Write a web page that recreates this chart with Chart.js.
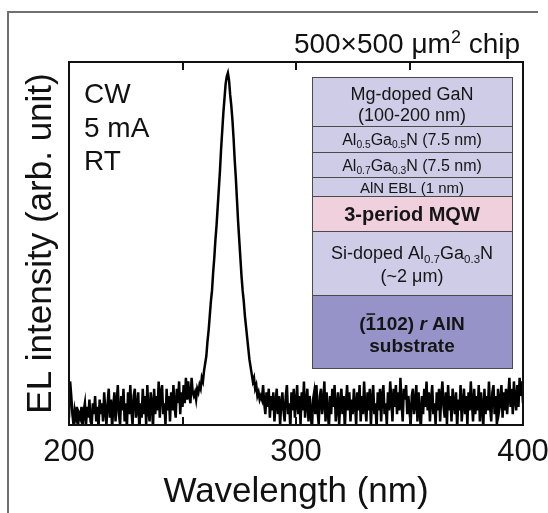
<!DOCTYPE html>
<html>
<head>
<meta charset="utf-8">
<script src="https://cdn.jsdelivr.net/npm/chart.js@4.4.1/dist/chart.umd.min.js"></script>
<style>
  html, body { margin: 0; padding: 0; background: #fff; }
  canvas { display: block; }
</style>
</head>
<body>
<canvas id="el" width="548" height="513"></canvas>
<script>
// EL spectrum sampled every 0.5 nm from 200 nm to 400 nm (arb. unit, peak ≈ 97)
const wavelengthStart = 200;
const wavelengthStep = 0.5;

const intensity = [
  // 200 – 254.5 nm
  2, 12, 8, 3, 0, 4, 2, 5, 0, 3,
  2, 5, -1, 4, 6, 0, 5, 2, 7, 1,
  0, 6, 3, 8, 1, 5, -1, 7, 3, 6,
  1, 9, 4, 0, 6, 10, 2, 7, -1, 5,
  9, 1, 6, 11, 3, 0, 8, 4, 10, 1,
  6, -1, 9, 3, 11, 4, 0, 8, 10, 2,
  5, 9, -2, 6, 2, 10, 3, 8, 0, 11,
  4, 1, 9, 6, -1, 10, 3, 8, 4, 12,
  2, 9, 11, 3, 6, 0, 10, 4, 8, 1,
  9, 4, 11, 5, 2, 10, 6, 12, 3, 9,
  5, 11, 6, 13, 7, 12, 8, 6, 13, 9,
  // 255 – 284.5 nm (emission peak)
  8, 9, 7, 10, 9, 11, 10, 13, 12, 15,
  17, 19, 23, 26, 30, 34, 37, 42, 46, 51,
  55, 60, 65, 70, 76, 81, 86, 90, 94, 96,
  97, 95, 91, 88, 84, 79, 73, 68, 62, 56,
  51, 46, 41, 37, 34, 30, 27, 24, 21, 18,
  16, 14, 12, 13, 10, 11, 8, 9, 7, 8,
  // 285 – 400 nm
  7, 11, 6, 3, 9, 5, 10, 2, 8, 4,
  9, 1, 6, 10, 3, 8, 0, 6, 9, 4,
  1, 8, 11, 3, 6, -1, 9, 4, 10, 2,
  6, 11, 3, 8, 0, 9, 4, 12, 2, 6,
  10, 1, 8, 4, -2, 7, 9, 3, 11, 4,
  0, 8, 10, 3, 6, 12, 1, 9, 4, -1,
  8, 3, 10, 5, 11, 1, 5, 9, 0, 6,
  10, 3, 8, -1, 6, 11, 4, 9, 1, 7,
  3, 10, 6, 0, 9, 4, 11, 1, 8, 3,
  12, 5, 1, 9, 4, 10, 0, 7, 11, 3,
  6, -1, 9, 4, 10, 1, 8, 11, 3, 6,
  0, 9, 4, 12, 7, 1, 10, 5, 11, 3,
  9, 4, 13, 6, 1, 10, 7, 11, 3, 8,
  4, 0, 8, 10, 3, 6, 11, 1, 9, 4,
  -1, 8, 3, 10, 5, 12, 4, 9, 1, 7,
  11, 3, 6, 0, 9, 4, 10, 1, 8, 12,
  5, 2, 9, 0, 11, 4, 8, 1, 10, 6,
  3, 9, -1, 7, 4, 11, 1, 6, 10, 3,
  8, 0, 9, 4, 12, 6, 1, 10, 3, 8,
  4, 11, 1, 9, 5, -1, 10, 3, 8, 4,
  12, 5, 1, 9, 11, 3, 8, 0, 10, 4,
  6, 11, 2, 9, 4, 10, 3, 8, 13, 5,
  10, 3, 12, 7, 4, 11, 5, 13, 8, 12,
  6
];

const wavelength = intensity.map((_, i) => wavelengthStart + i * wavelengthStep);

const xTickValues = [200, 300, 400];
const innerTickValues = [250, 300, 350];
const conditionLines = ['CW', '5 mA', 'RT'];

const FONT = '"Liberation Sans", Arial, Helvetica, sans-serif';
const INK = '#111';

// Epitaxial layer stack shown as an inset (top to bottom)
const LAV = '#cecce6';
const insetLayers = [
  { h: 49, fill: LAV, lines: [
      { base: 23, size: 18, runs: [['Mg-doped GaN', '']] },
      { base: 44, size: 18, runs: [['(100-200 nm)', '']] } ] },
  { h: 26, fill: LAV, lines: [
      { base: 18.5, size: 16, runs: [['Al', ''], ['0.5', 'sub'], ['Ga', ''], ['0.5', 'sub'], ['N (7.5 nm)', '']] } ] },
  { h: 25, fill: LAV, lines: [
      { base: 18.5, size: 16, runs: [['Al', ''], ['0.7', 'sub'], ['Ga', ''], ['0.3', 'sub'], ['N (7.5 nm)', '']] } ] },
  { h: 19, fill: LAV, lines: [
      { base: 16, size: 15, runs: [['AlN EBL (1 nm)', '']] } ] },
  { h: 35, fill: '#f1d0de', lines: [
      { base: 25, size: 20, bold: true, runs: [['3-period MQW', '']] } ] },
  { h: 64, fill: LAV, lines: [
      { base: 28, size: 18, runs: [['Si-doped Al', ''], ['0.7', 'sub'], ['Ga', ''], ['0.3', 'sub'], ['N', '']] },
      { base: 51, size: 18, runs: [['(~2 \u03BCm)', '']] } ] },
  { h: 73, fill: '#9693c9', lines: [
      { base: 35, size: 19, bold: true, runs: [['(', ''], ['1', 'bar'], ['102) ', ''], ['r', 'it'], [' AlN', '']] },
      { base: 57, size: 19, bold: true, runs: [['substrate', '']] } ] }
];

function runFont(style, size, bold) {
  const s = (style === 'sub' || style === 'sup') ? size * 0.64 : size;
  return (style === 'it' ? 'italic ' : '') + (bold ? 'bold ' : '') + s + 'px ' + FONT;
}

// Draws a centred line of mixed text (subscripts, superscripts, italics, overbars)
function drawRuns(ctx, runs, cx, baseline, size, bold) {
  let total = 0;
  runs.forEach(([t, st]) => { ctx.font = runFont(st, size, bold); total += ctx.measureText(t).width; });
  let x = cx - total / 2;
  runs.forEach(([t, st]) => {
    ctx.font = runFont(st, size, bold);
    const w = ctx.measureText(t).width;
    let y = baseline;
    if (st === 'sub') y += size * 0.2;
    if (st === 'sup') y -= size * 0.36;
    ctx.fillText(t, x, y);
    if (st === 'bar') ctx.fillRect(x + 1, baseline - size * 0.88, w - 2, Math.max(1.5, size * 0.08));
    x += w;
  });
}

const decorations = {
  id: 'decorations',
  beforeDraw(chart) {
    const ctx = chart.ctx;
    ctx.save();
    ctx.fillStyle = '#fff';
    ctx.fillRect(0, 0, chart.width, chart.height);
    // panel edge
    ctx.strokeStyle = '#707070';
    ctx.lineWidth = 2;
    ctx.beginPath();
    ctx.moveTo(8, chart.height);
    ctx.lineTo(8, 12);
    ctx.lineTo(538, 12);
    ctx.stroke();
    ctx.restore();
  },
  afterDraw(chart) {
    const ctx = chart.ctx;
    const a = chart.chartArea;
    const xs = chart.scales.x;
    ctx.save();

    // plot frame and inward ticks
    ctx.strokeStyle = INK;
    ctx.lineWidth = 2;
    ctx.strokeRect(a.left, a.top, a.right - a.left, a.bottom - a.top);
    ctx.beginPath();
    innerTickValues.forEach(v => {
      const px = Math.round(xs.getPixelForValue(v));
      ctx.moveTo(px, a.bottom); ctx.lineTo(px, a.bottom - 8);
      ctx.moveTo(px, a.top); ctx.lineTo(px, a.top + 8);
    });
    ctx.stroke();

    ctx.fillStyle = INK;
    ctx.textAlign = 'left';
    ctx.textBaseline = 'alphabetic';

    // measurement conditions
    ctx.font = '28px ' + FONT;
    conditionLines.forEach((t, i) => ctx.fillText(t, a.left + 15, a.top + 41 + i * 33.5));

    // chip size label above the frame
    const chipRuns = [['500\u00D7500 \u03BCm', ''], ['2', 'sup'], [' chip', '']];
    let total = 0;
    chipRuns.forEach(([t, st]) => { ctx.font = runFont(st, 28, false); total += ctx.measureText(t).width; });
    drawRuns(ctx, chipRuns, a.right - 3 - total / 2, a.top - 9, 28, false);

    // layer stack inset
    const left = a.left + 243;
    const width = 200;
    let top = a.top + 15;
    ctx.strokeStyle = '#4a4a4a';
    ctx.lineWidth = 1;
    insetLayers.forEach(layer => {
      ctx.fillStyle = layer.fill;
      ctx.fillRect(left, top, width, layer.h);
      ctx.strokeRect(left + 0.5, top + 0.5, width, layer.h);
      ctx.fillStyle = '#151515';
      layer.lines.forEach(l => drawRuns(ctx, l.runs, left + width / 2, top + l.base, l.size, !!l.bold));
      top += layer.h;
    });

    ctx.restore();
  }
};

new Chart(document.getElementById('el'), {
  type: 'line',
  data: {
    datasets: [{
      data: wavelength.map((w, i) => ({ x: w, y: intensity[i] })),
      borderColor: '#000',
      borderWidth: 2.5,
      pointRadius: 0,
      tension: 0,
      fill: false
    }]
  },
  options: {
    responsive: false,
    animation: false,
    devicePixelRatio: 1,
    layout: { padding: { top: 62, right: 25, left: 0, bottom: 0 } },
    plugins: { legend: { display: false }, tooltip: { enabled: false } },
    scales: {
      x: {
        type: 'linear',
        min: 200,
        max: 400,
        grid: { display: false },
        border: { display: false },
        afterBuildTicks: s => { s.ticks = xTickValues.map(v => ({ value: v })); },
        ticks: { font: { family: FONT, size: 31 }, color: INK, padding: 1, maxRotation: 0, autoSkip: false },
        title: { display: true, text: 'Wavelength (nm)', font: { family: FONT, size: 35 }, color: INK, padding: { top: 0, bottom: 0 } },
        afterFit: s => { s.height = 88; s.paddingLeft = 0; s.paddingRight = 0; }
      },
      y: {
        min: 0,
        max: 100,
        grid: { display: false },
        border: { display: false },
        ticks: { display: false },
        title: { display: true, text: 'EL intensity (arb. unit)', font: { family: FONT, size: 35 }, color: INK, padding: { top: 20, bottom: 0 } },
        afterFit: s => { s.width = 69; }
      }
    }
  },
  plugins: [decorations]
});
</script>
</body>
</html>
